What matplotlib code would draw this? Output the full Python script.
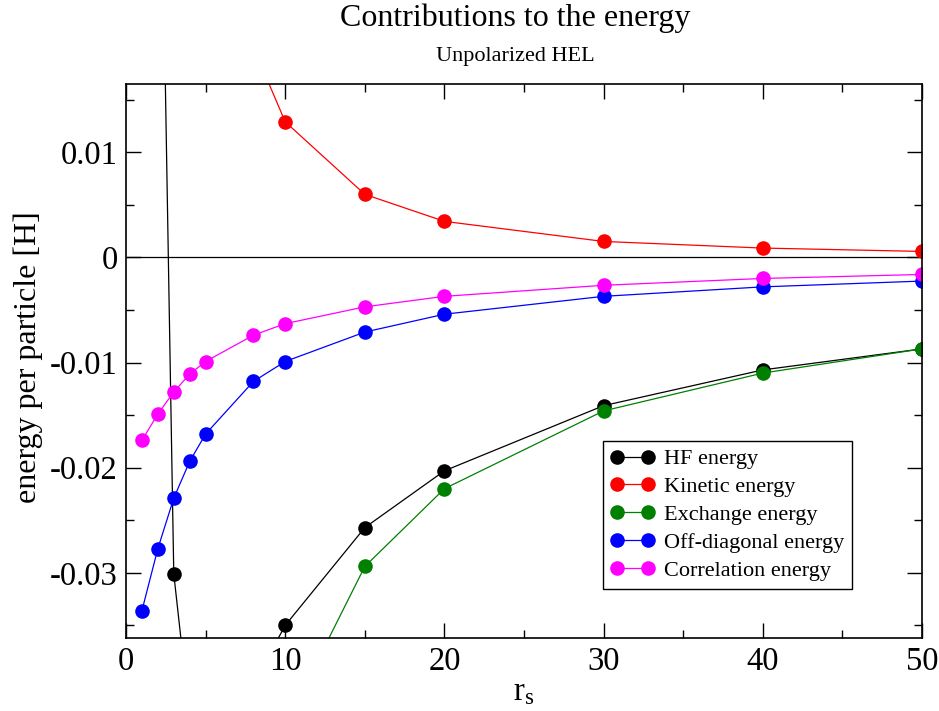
import matplotlib
matplotlib.use("Agg")
import matplotlib.pyplot as plt
from matplotlib.ticker import MultipleLocator

plt.rcParams["font.family"] = ["Liberation Serif", "DejaVu Serif"]
plt.rcParams["mathtext.fontset"] = "custom"
plt.rcParams["mathtext.rm"] = "Liberation Serif"
plt.rcParams["mathtext.it"] = "Liberation Serif:italic"

# r_s values and energies per particle [H]
rs_all = [1, 2, 3, 4, 5, 8, 10, 15, 20, 30, 40, 50]

hf_energy = [0.85, 0.058, -0.0301, -0.0438, -0.0442, -0.0406, -0.0350,
             -0.0257, -0.0203, -0.0141, -0.0107, -0.0087]
kinetic_energy = [1.29, 0.322, 0.143, 0.0806, 0.0516, 0.0200, 0.0129,
                  0.0060, 0.00343, 0.00152, 0.00089, 0.00057]
exchange_energy = [-0.4406, -0.2203, -0.1469, -0.1101, -0.0881, -0.0551, -0.0445,
                   -0.0294, -0.0220, -0.0146, -0.0110, -0.0087]
offdiag_energy = [-0.0336, -0.0277, -0.0229, -0.0194, -0.0168, -0.0118, -0.0099,
                  -0.0071, -0.0054, -0.0037, -0.0028, -0.00225]
corr_energy = [-0.0174, -0.0149, -0.0128, -0.0111, -0.0099, -0.0074, -0.0063,
               -0.0047, -0.0037, -0.00265, -0.0020, -0.00162]

series = [
    ("HF energy", hf_energy, "black"),
    ("Kinetic energy", kinetic_energy, "red"),
    ("Exchange energy", exchange_energy, "green"),
    ("Off-diagonal energy", offdiag_energy, "blue"),
    ("Correlation energy", corr_energy, "magenta"),
]

fig = plt.figure(figsize=(9.39, 7.11), dpi=100)
ax = fig.add_axes([0.1342, 0.1027, 0.8477, 0.7792])

ax.axhline(0, color="black", lw=0.9, zorder=1)

for label, vals, color in series:
    ax.plot(rs_all, vals, color=color, lw=0.9, marker="o", ms=10.5,
            markeredgewidth=0, label=label)

ax.set_xlim(0, 50)
ax.set_ylim(-0.0362, 0.0165)

ax.xaxis.set_major_locator(MultipleLocator(10))
ax.xaxis.set_minor_locator(MultipleLocator(5))
ax.yaxis.set_major_locator(MultipleLocator(0.01))
ax.yaxis.set_minor_locator(MultipleLocator(0.005))
ax.tick_params(which="both", direction="in", top=True, right=True,
               width=1.0, labelsize=23.5, pad=6)
ax.tick_params(which="major", length=11)
ax.tick_params(which="minor", length=6)
ax.set_yticks([-0.03, -0.02, -0.01, 0, 0.01])
ax.set_yticklabels(["-0.03", "-0.02", "-0.01", "0", "0.01"])
for sp in ax.spines.values():
    sp.set_linewidth(1.2)

ax.set_xlabel(r"$\mathrm{r_s}$", fontsize=23.5, labelpad=0)
ax.set_ylabel("energy per particle [H]", fontsize=23)
ax.yaxis.set_label_coords(-0.104, 0.507)

fig.text(0.549, 0.9747, "Contributions to the energy", ha="center", va="center",
         fontsize=23)
fig.text(0.549, 0.920, "Unpolarized HEL", ha="center", va="center", fontsize=16)

leg = ax.legend(loc="upper left", bbox_to_anchor=(0.599, 0.3556), fontsize=16,
                numpoints=2, handlelength=2.0, handletextpad=0.4,
                labelspacing=0.33, borderpad=0.35, borderaxespad=0,
                fancybox=False, framealpha=1, edgecolor="black")
leg.get_frame().set_linewidth(1.0)

fig.savefig("out.png", dpi=100)
